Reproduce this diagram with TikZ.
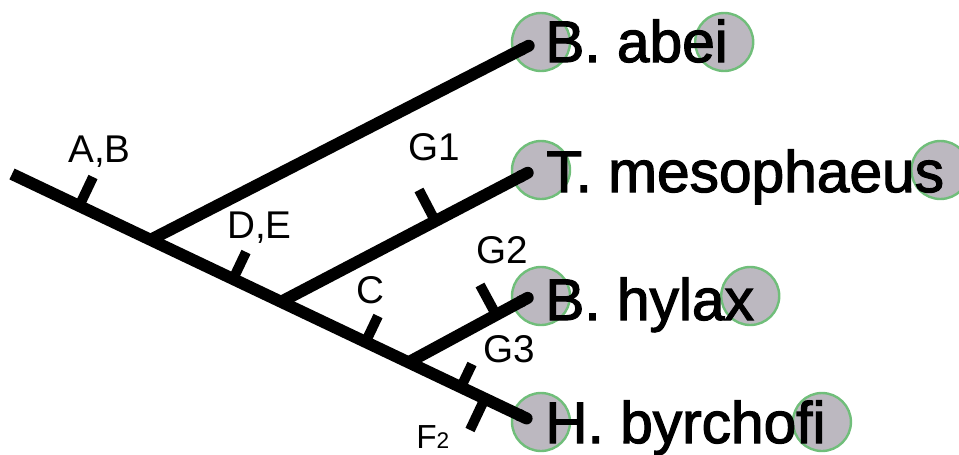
\documentclass[tikz,border=0pt]{standalone}
\usepackage{fontspec}
\setmainfont{Liberation Sans}
\newfontfamily\taxonfont[FakeBold=2]{Liberation Sans}
\usetikzlibrary{calc,arrows.meta}
\pgfdeclarelayer{bg}
\pgfsetlayers{bg,main}
\definecolor{discfill}{RGB}{188,184,192}
\definecolor{discrim}{RGB}{112,190,122}

\begin{document}
\begin{tikzpicture}[x=0.75pt,y=-0.75pt,
  branch/.style={line width=9pt, line cap=butt, -{Round Cap[]}},
  tickmark/.style={line width=7.5pt, line cap=butt},
  taxon/.style={font=\taxonfont\fontsize{44pt}{48pt}\selectfont, inner sep=0pt, anchor=base west},
  charlabel/.style={font=\fontsize{29pt}{32pt}\selectfont, inner sep=0pt, anchor=base west},
  tipdisc/.style={fill=discfill, draw=discrim, line width=1.8pt}]
\useasboundingbox (0,0) rectangle (959,454);

% tree skeleton: root, internal nodes on the main stem, and branch tips
\coordinate (root) at (12,174);
\coordinate (tipbyr) at (532,421);
\coordinate (n1) at ($(root)!0.2664!(tipbyr)$);
\coordinate (n2) at ($(root)!0.5174!(tipbyr)$);
\coordinate (n3) at ($(root)!0.7625!(tipbyr)$);
\coordinate (tipabe) at (534,43);
\coordinate (tipmes) at (533,170);
\coordinate (tiphyl) at (533,295);

% taxon names
\node[taxon] (tabe) at (545,62)  {B. abei};
\node[taxon] (tmes) at (546,192) {T. mesophaeus};
\node[taxon] (thyl) at (545,320) {B. hylax};
\node[taxon] (tbyr) at (545,443) {H. byrchofi};

% discs behind each name
\begin{pgfonlayer}{bg}
\foreach \t/\y in {abe/42, mes/170, hyl/296, byr/422}{
  \coordinate (c\t) at (541,\y);
  \path[tipdisc] (c\t) circle[radius=29];
  \path[tipdisc] ($(t\t.base east |- c\t)+(-4,0)$) circle[radius=29];
}
\end{pgfonlayer}

% branches
\draw[branch] (root) -- (tipbyr);
\draw[branch] (n1) -- (tipabe);
\draw[branch] (n2) -- (tipmes);
\draw[branch] (n3) -- (tiphyl);

% character ticks, each drawn from its branch to its free end
\coordinate (kAB) at (93,177);
\coordinate (kDE) at (246,252);
\coordinate (kC)  at (378,316);
\coordinate (kG3) at (472,364);
\coordinate (kF)  at (470,430);
\coordinate (kG1) at (419,190);
\coordinate (kG2) at (480,285);
\foreach \k in {AB,DE,C,G3,F}
  \draw[tickmark] ($(root)!(k\k)!(tipbyr)$) -- (k\k);
\draw[tickmark] ($(n2)!(kG1)!(tipmes)$) -- (kG1);
\draw[tickmark] ($(n3)!(kG2)!(tiphyl)$) -- (kG2);

% character labels
\node[charlabel] (lAB) at (68,162)  {A,B};
\node[charlabel] (lDE) at (227,238) {D,E};
\node[charlabel] (lC)  at (356,303) {C};
\node[charlabel] (lG1) at (408,160) {G1};
\node[charlabel] (lG2) at (476,263) {G2};
\node[charlabel] (lG3) at (483,362) {G3};
\node[charlabel] (lF)  at (416,448) {{\fontsize{25pt}{28pt}\selectfont F}{\fontsize{17pt}{19pt}\selectfont 2}};
\end{tikzpicture}
\end{document}
